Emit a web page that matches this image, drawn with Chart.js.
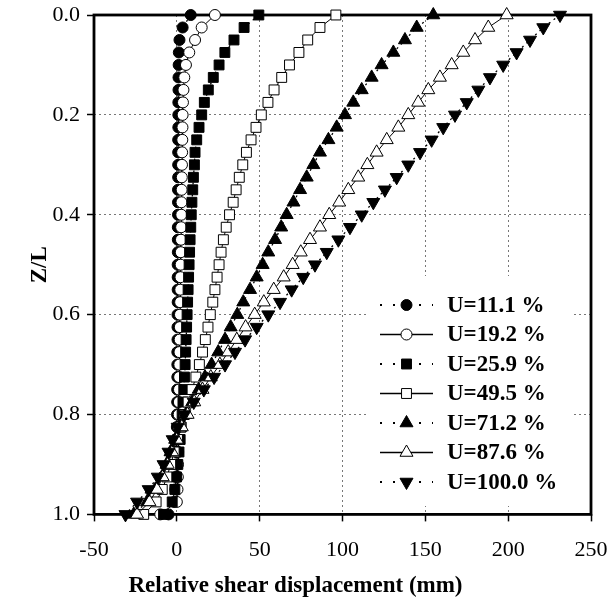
<!DOCTYPE html>
<html>
<head>
<meta charset="utf-8">
<script src="https://cdn.jsdelivr.net/npm/chart.js@4.4.0/dist/chart.umd.min.js"></script>
<style>
  html, body { margin: 0; padding: 0; background: #fff; }
  #wrap { width: 611px; height: 606px; }
</style>
</head>
<body>
<div id="wrap"><canvas id="myChart"></canvas></div>
<script>
// depth ratio Z/L, one reading every 0.025
var zl = [0, 0.025, 0.05, 0.075, 0.1, 0.125, 0.15, 0.175, 0.2, 0.225,
  0.25, 0.275, 0.3, 0.325, 0.35, 0.375, 0.4, 0.425, 0.45, 0.475,
  0.5, 0.525, 0.55, 0.575, 0.6, 0.625, 0.65, 0.675, 0.7, 0.725,
  0.75, 0.775, 0.8, 0.825, 0.85, 0.875, 0.9, 0.925, 0.95, 0.975, 1.0];

// relative shear displacement (mm) for each degree of consolidation
var u111 = [8.4, 3.5, 1.6, 1.2, 1.1, 1.0, 1.0, 0.9, 0.9, 0.9, 0.8, 0.8, 0.8, 0.8, 0.7, 0.7, 0.7, 0.6, 0.6, 0.6,
  0.5, 0.5, 0.5, 0.5, 0.4, 0.4, 0.4, 0.3, 0.3, 0.3, 0.2, 0.2, 0.1, 0.0, -0.1, -0.2, -0.4, -0.6, -0.9, -1.6, -5.0];
var u192 = [23, 15, 11, 7.5, 5.5, 4.5, 4.0, 3.7, 3.5, 3.4, 3.3, 3.2, 3.1, 3.0, 2.9, 2.8, 2.7, 2.6, 2.5, 2.4,
  2.3, 2.2, 2.1, 2.0, 1.9, 1.8, 1.7, 1.6, 1.5, 1.4, 1.3, 1.2, 1.1, 1.0, 0.9, 0.8, 0.7, 0.6, 0.4, 0.0, -10];
var u259 = [49.5, 40.6, 34.5, 29, 25.5, 22, 19, 16.6, 15, 13.4, 12, 11, 10.6, 10, 9.6, 9.1, 8.7, 8.4, 8.0, 7.7,
  7.4, 7.1, 6.8, 6.5, 6.2, 5.9, 5.6, 5.3, 5.0, 4.6, 4.2, 3.7, 3.2, 2.6, 2.0, 1.3, 0.6, -0.2, -1.2, -2.8, -8];
var u495 = [96, 86.4, 79, 73.7, 68, 63.3, 58.7, 55, 51, 47.8, 44.8, 42, 39.8, 37.7, 35.8, 34, 31.8, 29.8, 28.1, 26.7,
  25.5, 24.3, 23, 21.7, 20.2, 18.8, 17.2, 15.5, 13.6, 11.5, 9.2, 6.8, 4.5, 2.4, 0.4, -1.6, -3.7, -6.0, -8.8, -12.5, -20];
var u712 = [154.8, 144.8, 137.7, 130.7, 123.6, 117.6, 111.6, 106.5, 101.5, 96.5, 91.5, 86.4, 82.4, 78.4, 74.4, 70.4, 66.3, 63.0, 59.3, 55.2,
  51.8, 48.2, 44.2, 40.1, 36.5, 32.5, 29.1, 25.0, 21.0, 17.0, 13.2, 9.3, 5.4, 2.0, -1.0, -3.8, -6.2, -9.0, -13.0, -18.0, -26];
var u876 = [199.1, 188, 180, 172.9, 165.9, 158.8, 151.8, 145.7, 139.7, 133.7, 126.7, 120.6, 115, 109.5, 103.5, 98, 92, 86.4, 80.4, 74.8,
  69.9, 64.5, 58.5, 52.5, 47, 41.5, 36.2, 31, 26, 20.5, 15.5, 10.5, 6.5, 3.0, 0.0, -2.8, -5.5, -8.5, -12, -16.5, -24];
var u1000 = [231.3, 221.2, 213.2, 205.1, 197, 189, 182, 175, 167.9, 160.8, 153.8, 146.8, 139.7, 132.7, 125.6, 118.6, 111.6, 104.5, 97.5, 90.5,
  83.4, 76.3, 69.3, 62.3, 55.2, 48.2, 41.2, 35.1, 29.1, 22.5, 16.3, 10.2, 4.5, 0.5, -2.5, -5.0, -8, -11.5, -17, -24, -31];

var seriesNames = ["U=11.1 %", "U=19.2 %", "U=25.9 %", "U=49.5 %", "U=71.2 %", "U=87.6 %", "U=100.0 %"];
var xTicks = [-50, 0, 50, 100, 150, 200, 250];
var yTicks = [0, 0.2, 0.4, 0.6, 0.8, 1.0];

var serif = "'Liberation Serif', 'Times New Roman', serif";
Chart.defaults.font.family = serif;
Chart.defaults.color = "#000";

function toPoints(vals) {
  return vals.map(function (v, i) { return { x: v, y: zl[i] }; });
}

// marker look per series: filled ones get a dotted line, open ones a solid line
function makeSet(i, vals, style, filled, rot, r) {
  return {
    label: seriesNames[i],
    data: toPoints(vals),
    showLine: true,
    clip: false,
    order: 10 - i,
    borderColor: "#000",
    borderWidth: filled ? 1.3 : 1,
    borderDash: filled ? [2, 4] : [],
    pointStyle: style,
    pointRotation: rot,
    pointRadius: r,
    pointHoverRadius: r,
    pointBackgroundColor: filled ? "#000" : "#fff",
    pointBorderColor: "#000",
    pointBorderWidth: 1
  };
}

var datasets = [
  makeSet(0, u111, "circle", true, 0, 5.5),
  makeSet(1, u192, "circle", false, 0, 5.5),
  makeSet(2, u259, "rect", true, 0, 7),
  makeSet(3, u495, "rect", false, 0, 7),
  makeSet(4, u712, "triangle", true, 0, 7.5),
  makeSet(5, u876, "triangle", false, 0, 7.5),
  makeSet(6, u1000, "triangle", true, 180, 7.5)
];

// thick box round the plot
var frame = {
  id: "frame",
  beforeDatasetsDraw: function (chart) {
    var a = chart.chartArea, ctx = chart.ctx;
    ctx.save();
    ctx.strokeStyle = "#000";
    ctx.lineWidth = 2.8;
    ctx.strokeRect(a.left, a.top, a.right - a.left, a.bottom - a.top);
    ctx.restore();
  }
};

// legend sits inside the plot, lower right, on a white patch
var legendBox = {
  id: "legendBox",
  afterDatasetsDraw: function (chart) {
    var ctx = chart.ctx;
    ctx.save();
    ctx.fillStyle = "#fff";
    ctx.fillRect(367, 276, 206, 230);
    chart.data.datasets.forEach(function (ds, i) {
      var ry = 305 + i * 29.5;
      var filled = ds.pointBackgroundColor === "#000";
      ctx.strokeStyle = "#000";
      ctx.lineWidth = filled ? 2 : 1.3;
      ctx.setLineDash(filled ? [2, 11] : []);
      ctx.beginPath();
      ctx.moveTo(380, ry);
      ctx.lineTo(433, ry);
      ctx.stroke();
      ctx.setLineDash([]);
      ctx.fillStyle = ds.pointBackgroundColor;
      ctx.lineWidth = 1;
      Chart.helpers.drawPoint(ctx, {
        pointStyle: ds.pointStyle,
        rotation: ds.pointRotation,
        radius: ds.pointRadius,
        borderWidth: 1
      }, 406.5, ry);
      ctx.fillStyle = "#000";
      ctx.font = "bold 23px " + serif;
      ctx.textBaseline = "middle";
      ctx.textAlign = "left";
      ctx.fillText(ds.label, 447, ry + 1);
    });
    ctx.restore();
  }
};

var ctx = document.getElementById("myChart");
var myChart = new Chart(ctx, {
  type: "scatter",
  data: { datasets: datasets },
  plugins: [frame, legendBox],
  options: {
    responsive: true,
    maintainAspectRatio: false,
    animation: false,
    layout: { padding: { top: 15, right: 20, left: 0, bottom: 0 } },
    plugins: {
      legend: { display: false },
      tooltip: { enabled: false },
      title: {
        display: true,
        position: "bottom",
        text: "Relative shear displacement (mm)",
        color: "#000",
        font: { family: serif, size: 23, weight: "bold" },
        padding: { top: 0, bottom: 6 }
      }
    },
    scales: {
      x: {
        type: "linear",
        min: -50,
        max: 250,
        afterBuildTicks: function (scale) {
          scale.ticks = xTicks.map(function (v) { return { value: v }; });
        },
        afterFit: function (scale) {
          scale.height = 58;
          scale.paddingLeft = 0;
          scale.paddingRight = 0;
        },
        ticks: { font: { size: 22 }, padding: 16, maxRotation: 0 },
        grid: { color: "#777", lineWidth: 1, tickColor: "#000", tickLength: 7, tickWidth: 1.5 },
        border: { display: false, dash: [2, 3] }
      },
      y: {
        type: "linear",
        reverse: true,
        min: 0,
        max: 1,
        afterBuildTicks: function (scale) {
          scale.ticks = yTicks.map(function (v) { return { value: v }; });
        },
        afterFit: function (scale) {
          scale.width = 94;
          scale.paddingTop = 0;
          scale.paddingBottom = 0;
        },
        ticks: {
          font: { size: 22 },
          padding: 7,
          callback: function (v) { return Number(v).toFixed(1); }
        },
        grid: { color: "#777", lineWidth: 1, tickColor: "#000", tickLength: 7, tickWidth: 1.5 },
        border: { display: false, dash: [2, 3] },
        title: {
          display: true,
          text: "Z/L",
          font: { size: 23, weight: "bold" },
          padding: { top: 26, bottom: 0 }
        }
      }
    }
  }
});
</script>
</body>
</html>
